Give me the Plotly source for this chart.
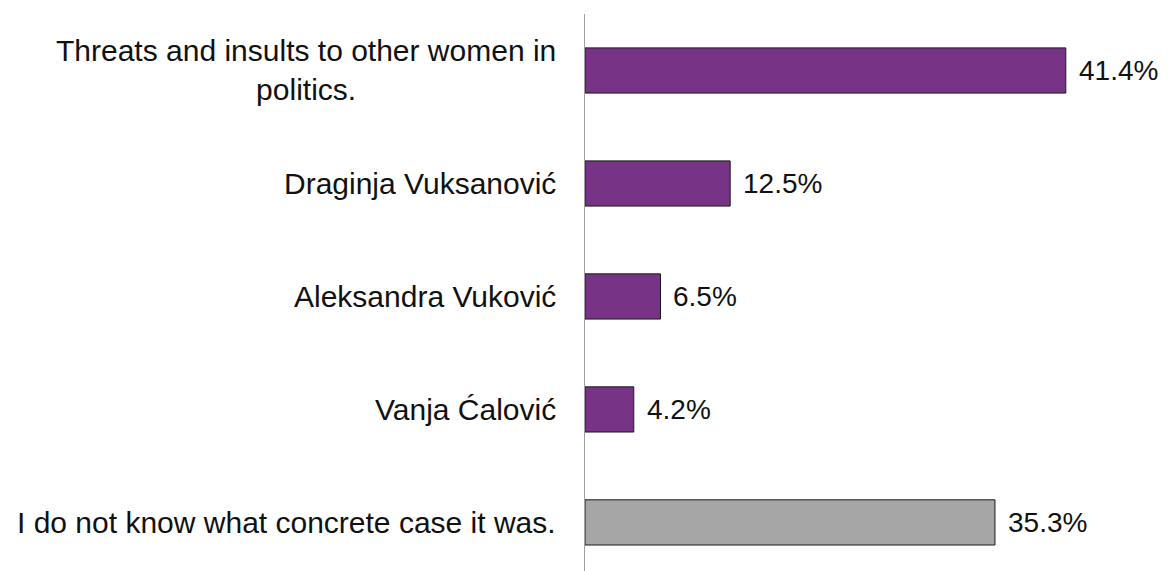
import plotly.graph_objects as go

categories = [
    "Threats and insults to other women in<br>politics.",
    "Draginja Vuksanović",
    "Aleksandra Vuković",
    "Vanja Ćalović",
    "I do not know what concrete case it was.",
]
values = [41.4, 12.5, 6.5, 4.2, 35.3]
colors = ["#773386", "#773386", "#773386", "#773386", "#A6A6A6"]
labels = [f"{v:.1f}%" for v in values]

FONT = "Liberation Sans, Arial, sans-serif"

fig = go.Figure()
fig.add_trace(go.Bar(
    x=values,
    y=categories,
    orientation="h",
    marker=dict(color=colors, line=dict(color="#1a1a1a", width=1)),
    hoverinfo="skip",
))

# value labels
for c, v, t in zip(categories, values, labels):
    fig.add_annotation(
        x=v, y=c, text=t, showarrow=False,
        xanchor="left", yanchor="middle", xshift=11,
        font=dict(family=FONT, size=28, color="#111111"),
    )

# category labels (multi-line centered like the reference)
for c in categories:
    fig.add_annotation(
        xref="paper", x=0, y=c, yref="y", text=c, showarrow=False,
        xanchor="right", yanchor="middle", xshift=-27, align="center",
        font=dict(family=FONT, size=30, color="#111111"),
    )

fig.update_layout(
    width=1160, height=563,
    margin=dict(l=577, r=0, t=6, b=0),
    paper_bgcolor="white", plot_bgcolor="white",
    bargap=0.6,
    showlegend=False,
    font=dict(family=FONT, size=28, color="#111111"),
)
fig.update_xaxes(range=[0, 50.2], visible=False, showgrid=False, zeroline=False)
fig.update_yaxes(
    type="category",
    range=[4.43, -0.5],
    showline=True, linecolor="#A0A0A0", linewidth=1,
    showgrid=False, zeroline=False,
    ticks="", showticklabels=False,
)

fig.write_html("out.html")
